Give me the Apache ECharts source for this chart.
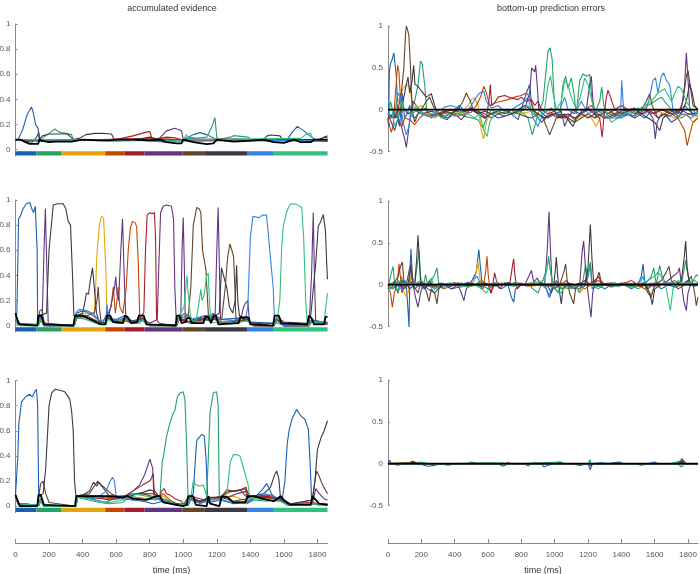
<!DOCTYPE html>
<html>
<head>
<meta charset="utf-8">
<script src="https://cdn.jsdelivr.net/npm/echarts@6/dist/echarts.min.js"></script>
<style>
  html, body { margin: 0; padding: 0; background: #fff; }
  #chart { width: 700px; height: 574px; }
</style>
</head>
<body>
<div id="chart"></div>
<script>
// word segments shown as the coloured strip under the evidence panels (ms)
const segEdges = [0, 125, 275, 535, 650, 770, 995, 1125, 1380, 1535, 1860];
const wordColors = ["#1a5fb4", "#26a269", "#e5a50a", "#c64600", "#a51d2d",
                    "#613583", "#63452c", "#3d3846", "#3584e4", "#2ec27e"];
// line colours: the 10 words, then black
const lineColors = wordColors.concat(["#000000"]);

const timeTicks = [0, 200, 400, 600, 800, 1000, 1200, 1400, 1600, 1800];
const evTicks = [0, 0.2, 0.4, 0.6, 0.8, 1];
const peTicks = [-0.5, 0, 0.5, 1];

// accumulated evidence, row 1: [time ms, value] per line, order = lineColors
const acc1 = [
  [[0,0.08],[16,0.083],[40,0.15],[70,0.28],[95,0.34],[105,0.3],[120,0.2],[135,0.17],[141,0.065],[160,0.07],[240,0.07],[345,0.08],[600,0.07],[700,0.08],[800,0.07],[900,0.06],[1000,0.08],[1060,0.12],[1100,0.136],[1140,0.12],[1200,0.08],[1400,0.075],[1560,0.07],[1620,0.08],[1650,0.14],[1680,0.186],[1720,0.15],[1765,0.1],[1790,0.08],[1860,0.07]],
  [[0,0.08],[150,0.08],[200,0.13],[235,0.165],[260,0.14],[300,0.13],[334,0.12],[345,0.08],[600,0.07],[1000,0.08],[1140,0.1],[1170,0.18],[1189,0.255],[1200,0.1],[1210,0.08],[1280,0.1],[1300,0.112],[1387,0.1],[1400,0.08],[1860,0.07]],
  [[0,0.08],[100,0.07],[140,0.08],[300,0.075],[540,0.07],[600,0.08],[900,0.07],[1100,0.065],[1400,0.075],[1700,0.07],[1860,0.07]],
  [[0,0.08],[140,0.065],[300,0.07],[600,0.085],[800,0.09],[1000,0.08],[1500,0.07],[1860,0.075]],
  [[0,0.08],[300,0.08],[600,0.08],[700,0.11],[780,0.14],[801,0.144],[815,0.08],[900,0.1],[950,0.095],[990,0.08],[1300,0.085],[1800,0.07],[1860,0.065]],
  [[0,0.08],[600,0.075],[851,0.08],[900,0.15],[950,0.17],[990,0.15],[1000,0.08],[1860,0.08]],
  [[0,0.08],[100,0.06],[125,0.1],[139,0.14],[145,0.08],[1800,0.08],[1840,0.1],[1860,0.095]],
  [[0,0.08],[140,0.08],[160,0.11],[200,0.125],[310,0.125],[330,0.1],[345,0.08],[380,0.09],[420,0.12],[473,0.13],[520,0.13],[572,0.125],[590,0.08],[700,0.08],[760,0.09],[800,0.1],[860,0.08],[1477,0.08],[1500,0.11],[1520,0.117],[1577,0.11],[1590,0.08],[1820,0.08],[1840,0.1],[1860,0.11]],
  [[0,0.08],[1000,0.07],[1040,0.1],[1100,0.08],[1860,0.07]],
  [[0,0.08],[1000,0.075],[1020,0.12],[1030,0.08],[1700,0.09],[1730,0.12],[1760,0.13],[1775,0.08],[1860,0.08]],
  [[0,0.08],[30,0.08],[60,0.06],[85,0.046],[135,0.046],[142,0.08],[160,0.07],[200,0.06],[240,0.065],[334,0.065],[345,0.08],[400,0.08],[500,0.075],[560,0.075],[600,0.08],[700,0.08],[800,0.075],[860,0.08],[900,0.06],[960,0.05],[990,0.05],[1000,0.08],[1060,0.06],[1140,0.045],[1180,0.05],[1200,0.08],[1260,0.07],[1300,0.065],[1390,0.07],[1400,0.08],[1480,0.08],[1540,0.06],[1600,0.055],[1660,0.08],[1700,0.06],[1760,0.06],[1780,0.08],[1860,0.08]]
];

// accumulated evidence, row 2
const acc2 = [
  [[0,0.08],[8,0.1],[14,0.5],[18,0.85],[28,0.87],[45,0.93],[65,0.97],[85,0.98],[100,0.92],[108,0.9],[118,0.95],[126,0.965],[129,0.6],[132,0.05],[145,0.09],[160,0.03],[200,0.01],[350,0.01],[365,0.1],[400,0.12],[440,0.1],[480,0.06],[520,0.02],[545,0.1],[560,0.06],[600,0.05],[650,0.08],[700,0.03],[760,0.05],[800,0.01],[960,0.01],[975,0.06],[1010,0.1],[1030,0.08],[1060,0.05],[1140,0.06],[1180,0.1],[1200,0.05],[1340,0.06],[1400,0.03],[1540,0.02],[1560,0.05],[1600,0.01],[1750,0.01],[1765,0.05],[1860,0.02]],
  [[0,0.07],[10,0.03],[30,0.0],[135,0.0],[145,0.07],[165,0.01],[345,0.0],[360,0.07],[420,0.05],[500,0.01],[540,0.01],[550,0.06],[600,0.02],[650,0.03],[670,0.06],[700,0.02],[740,0.02],[760,0.06],[800,0.0],[960,0.0],[975,0.05],[1040,0.02],[1130,0.04],[1190,0.05],[1230,0.02],[1340,0.03],[1380,0.04],[1420,0.0],[1540,0.0],[1560,0.05],[1600,0.0],[1750,0.0],[1765,0.04],[1860,0.03]],
  [[0,0.06],[15,0.02],[140,0.01],[150,0.06],[170,0.01],[350,0.0],[365,0.08],[420,0.1],[470,0.1],[478,0.3],[482,0.46],[487,0.6],[500,0.8],[513,0.87],[525,0.86],[533,0.85],[540,0.4],[545,0.05],[560,0.07],[600,0.03],[650,0.05],[700,0.02],[760,0.04],[800,0.0],[960,0.0],[975,0.05],[1040,0.03],[1130,0.05],[1190,0.06],[1230,0.02],[1340,0.04],[1380,0.05],[1420,0.0],[1540,0.0],[1560,0.04],[1600,0.0],[1750,0.0],[1765,0.04],[1860,0.02]],
  [[0,0.06],[15,0.02],[140,0.01],[150,0.05],[170,0.0],[350,0.0],[365,0.07],[420,0.08],[500,0.03],[540,0.02],[550,0.08],[570,0.15],[583,0.31],[595,0.1],[605,0.2],[612,0.31],[622,0.15],[640,0.1],[660,0.3],[672,0.6],[685,0.78],[697,0.83],[712,0.82],[722,0.79],[732,0.5],[741,0.06],[760,0.06],[800,0.01],[960,0.0],[975,0.05],[1040,0.03],[1130,0.06],[1190,0.06],[1230,0.02],[1340,0.04],[1380,0.05],[1420,0.0],[1540,0.0],[1560,0.05],[1600,0.0],[1750,0.0],[1765,0.04],[1860,0.02]],
  [[0,0.05],[15,0.01],[140,0.01],[150,0.05],[170,0.0],[350,0.0],[365,0.06],[420,0.07],[500,0.02],[540,0.02],[550,0.07],[600,0.03],[650,0.04],[700,0.02],[735,0.03],[750,0.08],[765,0.1],[775,0.6],[785,0.88],[800,0.9],[815,0.89],[828,0.9],[835,0.7],[841,0.05],[855,0.02],[960,0.0],[975,0.05],[1040,0.03],[1130,0.05],[1190,0.05],[1230,0.02],[1340,0.04],[1380,0.05],[1420,0.0],[1540,0.0],[1560,0.05],[1600,0.0],[1750,0.0],[1765,0.03],[1860,0.02]],
  [[0,0.05],[15,0.01],[140,0.01],[160,0.1],[170,0.6],[178,0.93],[186,0.5],[195,0.02],[350,0.0],[365,0.07],[420,0.08],[500,0.02],[540,0.02],[560,0.1],[590,0.3],[598,0.39],[605,0.25],[615,0.2],[628,0.6],[638,0.85],[648,0.4],[658,0.05],[700,0.03],[760,0.05],[800,0.02],[845,0.05],[855,0.5],[865,0.9],[880,0.95],[900,0.96],[930,0.95],[942,0.85],[950,0.3],[958,0.05],[985,0.05],[993,0.6],[1000,0.86],[1006,0.5],[1012,0.04],[1060,0.03],[1130,0.06],[1190,0.08],[1200,0.6],[1208,0.94],[1215,0.5],[1222,0.05],[1340,0.04],[1360,0.15],[1372,0.18],[1385,0.2],[1395,0.03],[1540,0.0],[1560,0.05],[1600,0.0],[1750,0.0],[1765,0.4],[1775,0.9],[1782,0.4],[1790,0.02],[1860,0.01]],
  [[0,0.05],[15,0.01],[130,0.01],[145,0.12],[158,0.13],[170,0.03],[200,0.0],[350,0.0],[365,0.07],[420,0.08],[470,0.1],[486,0.2],[493,0.31],[500,0.15],[510,0.03],[540,0.02],[550,0.06],[600,0.03],[650,0.04],[700,0.02],[760,0.05],[800,0.0],[960,0.0],[975,0.06],[1030,0.08],[1045,0.3],[1060,0.8],[1080,0.94],[1095,0.93],[1105,0.9],[1115,0.6],[1135,0.45],[1145,0.2],[1152,0.04],[1190,0.07],[1230,0.06],[1250,0.3],[1265,0.55],[1278,0.65],[1290,0.6],[1300,0.55],[1308,0.3],[1314,0.05],[1340,0.04],[1380,0.05],[1420,0.0],[1540,0.0],[1560,0.05],[1600,0.0],[1750,0.0],[1765,0.04],[1860,0.02]],
  [[0,0.1],[10,0.05],[30,0.01],[135,0.01],[140,0.08],[185,0.1],[200,0.6],[225,0.96],[250,0.97],[284,0.97],[300,0.93],[314,0.83],[328,0.8],[340,0.4],[348,0.08],[360,0.08],[400,0.1],[415,0.2],[423,0.26],[435,0.25],[445,0.35],[459,0.46],[470,0.3],[483,0.1],[500,0.03],[540,0.02],[548,0.12],[560,0.06],[600,0.04],[650,0.06],[700,0.04],[760,0.06],[800,0.01],[960,0.01],[970,0.07],[1000,0.05],[1030,0.06],[1060,0.04],[1130,0.08],[1160,0.05],[1190,0.08],[1215,0.1],[1228,0.46],[1240,0.4],[1260,0.3],[1275,0.15],[1295,0.1],[1310,0.2],[1318,0.48],[1325,0.2],[1335,0.08],[1380,0.06],[1400,0.02],[1540,0.02],[1560,0.07],[1600,0.03],[1740,0.02],[1760,0.08],[1790,0.5],[1805,0.79],[1820,0.83],[1835,0.885],[1848,0.75],[1855,0.5],[1860,0.37]],
  [[0,0.06],[15,0.01],[140,0.01],[150,0.06],[170,0.0],[350,0.0],[360,0.1],[380,0.13],[420,0.12],[460,0.1],[500,0.04],[540,0.05],[545,0.17],[555,0.07],[600,0.04],[650,0.06],[700,0.03],[760,0.05],[800,0.01],[960,0.0],[975,0.06],[1010,0.1],[1040,0.05],[1130,0.08],[1190,0.09],[1230,0.03],[1340,0.05],[1375,0.08],[1385,0.15],[1400,0.7],[1415,0.87],[1450,0.86],[1475,0.88],[1496,0.88],[1506,0.75],[1516,0.6],[1526,0.45],[1536,0.31],[1542,0.1],[1546,0.03],[1600,0.0],[1750,0.0],[1765,0.03],[1860,0.02]],
  [[0,0.06],[15,0.01],[140,0.01],[150,0.05],[170,0.0],[350,0.0],[365,0.06],[420,0.07],[500,0.02],[540,0.02],[550,0.05],[600,0.02],[650,0.04],[700,0.02],[760,0.04],[800,0.0],[960,0.0],[975,0.08],[1005,0.15],[1015,0.3],[1022,0.4],[1030,0.25],[1045,0.05],[1075,0.03],[1090,0.15],[1105,0.29],[1112,0.2],[1125,0.25],[1140,0.4],[1149,0.42],[1156,0.2],[1165,0.03],[1230,0.02],[1340,0.03],[1380,0.04],[1420,0.0],[1540,0.0],[1560,0.05],[1576,0.2],[1586,0.6],[1596,0.79],[1615,0.9],[1636,0.965],[1660,0.97],[1676,0.965],[1706,0.94],[1718,0.7],[1730,0.2],[1738,0.04],[1750,0.0],[1765,0.03],[1840,0.03],[1850,0.15],[1860,0.26]],
  [[0,0.1],[8,0.09],[20,0.01],[130,0.0],[136,0.08],[155,0.08],[170,0.01],[345,0.0],[355,0.08],[400,0.08],[430,0.06],[480,0.03],[510,0.01],[535,0.01],[545,0.08],[565,0.08],[580,0.03],[640,0.02],[652,0.08],[668,0.07],[690,0.02],[725,0.03],[735,0.08],[765,0.08],[780,0.01],[955,0.0],[962,0.08],[978,0.08],[990,0.02],[1015,0.03],[1022,0.06],[1040,0.06],[1050,0.02],[1120,0.02],[1130,0.07],[1150,0.07],[1165,0.02],[1175,0.03],[1182,0.08],[1195,0.08],[1210,0.01],[1330,0.02],[1340,0.07],[1360,0.06],[1380,0.07],[1392,0.06],[1400,0.01],[1535,0.0],[1545,0.08],[1570,0.08],[1585,0.02],[1740,0.01],[1748,0.08],[1765,0.06],[1780,0.01],[1840,0.01],[1848,0.07],[1860,0.07]]
];

// accumulated evidence, row 3
const acc3 = [
  [[0,0.09],[8,0.1],[14,0.4],[20,0.66],[36,0.83],[60,0.87],[85,0.89],[100,0.87],[115,0.91],[125,0.93],[132,0.8],[139,0.02],[150,0.06],[170,0.01],[360,0.0],[370,0.08],[420,0.07],[480,0.05],[540,0.03],[580,0.06],[640,0.06],[700,0.05],[760,0.04],[820,0.02],[880,0.04],[950,0.01],[1030,0.01],[1045,0.08],[1060,0.1],[1069,0.3],[1080,0.52],[1089,0.54],[1110,0.57],[1125,0.56],[1135,0.4],[1145,0.1],[1149,0.03],[1230,0.05],[1300,0.02],[1380,0.03],[1420,0.06],[1470,0.13],[1497,0.18],[1510,0.15],[1525,0.1],[1560,0.04],[1590,0.06],[1606,0.2],[1620,0.5],[1632,0.61],[1650,0.7],[1676,0.77],[1700,0.72],[1726,0.69],[1746,0.61],[1758,0.3],[1766,0.03],[1800,0.01],[1860,0.01]],
  [[0,0.08],[15,0.02],[140,0.01],[150,0.06],[170,0.0],[360,0.0],[370,0.07],[440,0.05],[500,0.03],[560,0.02],[640,0.03],[680,0.08],[720,0.07],[780,0.06],[840,0.05],[861,0.08],[875,0.35],[885,0.42],[900,0.55],[920,0.66],[940,0.74],[950,0.76],[965,0.87],[980,0.9],[990,0.91],[1000,0.91],[1010,0.85],[1020,0.5],[1029,0.06],[1040,0.07],[1080,0.03],[1130,0.03],[1139,0.07],[1150,0.4],[1160,0.75],[1179,0.9],[1199,0.91],[1208,0.8],[1215,0.08],[1240,0.04],[1380,0.02],[1420,0.05],[1500,0.04],[1580,0.06],[1620,0.01],[1770,0.02],[1860,0.01]],
  [[0,0.08],[15,0.02],[140,0.01],[150,0.05],[170,0.0],[360,0.0],[370,0.08],[450,0.07],[520,0.06],[560,0.05],[640,0.07],[700,0.07],[760,0.06],[860,0.07],[880,0.08],[920,0.04],[960,0.01],[1030,0.01],[1045,0.06],[1100,0.03],[1150,0.05],[1230,0.07],[1300,0.08],[1380,0.04],[1420,0.07],[1500,0.06],[1580,0.06],[1620,0.01],[1770,0.03],[1860,0.01]],
  [[0,0.08],[15,0.02],[140,0.01],[150,0.05],[170,0.0],[360,0.0],[370,0.08],[450,0.08],[520,0.07],[560,0.06],[650,0.08],[700,0.1],[760,0.1],[820,0.1],[860,0.07],[880,0.1],[920,0.05],[960,0.02],[1030,0.02],[1045,0.07],[1100,0.04],[1150,0.05],[1230,0.08],[1280,0.12],[1320,0.12],[1370,0.14],[1380,0.07],[1420,0.08],[1500,0.07],[1580,0.05],[1620,0.01],[1770,0.02],[1860,0.01]],
  [[0,0.08],[15,0.02],[140,0.01],[150,0.05],[170,0.0],[360,0.0],[370,0.07],[450,0.08],[520,0.08],[560,0.07],[650,0.08],[700,0.12],[760,0.17],[800,0.2],[810,0.22],[821,0.26],[828,0.1],[860,0.07],[870,0.12],[885,0.14],[900,0.1],[920,0.09],[950,0.06],[970,0.05],[990,0.04],[1000,0.02],[1030,0.02],[1045,0.08],[1100,0.06],[1130,0.05],[1150,0.05],[1230,0.08],[1260,0.11],[1300,0.12],[1340,0.13],[1375,0.15],[1385,0.07],[1420,0.07],[1500,0.08],[1580,0.06],[1620,0.02],[1770,0.03],[1800,0.02],[1860,0.02]],
  [[0,0.08],[15,0.02],[140,0.01],[150,0.05],[170,0.0],[360,0.0],[370,0.07],[450,0.07],[520,0.06],[560,0.05],[650,0.07],[700,0.12],[740,0.17],[770,0.25],[790,0.33],[801,0.375],[810,0.36],[818,0.3],[825,0.08],[860,0.05],[900,0.03],[960,0.01],[1030,0.01],[1045,0.06],[1100,0.03],[1150,0.05],[1230,0.06],[1280,0.08],[1320,0.1],[1380,0.12],[1400,0.07],[1500,0.07],[1580,0.06],[1620,0.02],[1770,0.02],[1790,0.14],[1810,0.1],[1840,0.06],[1860,0.05]],
  [[0,0.08],[15,0.02],[130,0.01],[150,0.18],[165,0.2],[180,0.1],[200,0.03],[360,0.0],[370,0.08],[440,0.1],[490,0.2],[500,0.21],[520,0.15],[560,0.08],[650,0.08],[700,0.09],[760,0.1],[860,0.06],[920,0.04],[960,0.01],[1030,0.01],[1045,0.07],[1100,0.04],[1150,0.06],[1230,0.08],[1260,0.13],[1300,0.12],[1340,0.13],[1380,0.07],[1420,0.08],[1500,0.09],[1540,0.08],[1580,0.05],[1620,0.01],[1770,0.05],[1785,0.2],[1795,0.28],[1810,0.24],[1830,0.17],[1860,0.1]],
  [[0,0.09],[10,0.05],[30,0.01],[130,0.01],[140,0.08],[165,0.1],[180,0.3],[200,0.8],[215,0.9],[235,0.93],[270,0.92],[294,0.91],[310,0.88],[324,0.85],[335,0.75],[344,0.6],[352,0.2],[360,0.08],[400,0.09],[440,0.12],[465,0.19],[473,0.2],[485,0.16],[495,0.19],[503,0.2],[520,0.16],[545,0.13],[570,0.1],[600,0.08],[650,0.07],[700,0.09],[760,0.11],[800,0.13],[830,0.12],[860,0.07],[900,0.04],[1000,0.01],[1030,0.07],[1100,0.04],[1150,0.07],[1230,0.07],[1300,0.04],[1380,0.06],[1420,0.08],[1480,0.1],[1520,0.15],[1545,0.25],[1557,0.28],[1570,0.22],[1580,0.06],[1640,0.02],[1770,0.05],[1785,0.2],[1800,0.45],[1820,0.54],[1840,0.6],[1860,0.68]],
  [[0,0.08],[15,0.02],[140,0.01],[150,0.05],[170,0.0],[360,0.0],[370,0.08],[420,0.09],[460,0.06],[500,0.08],[540,0.12],[565,0.2],[578,0.23],[590,0.2],[600,0.08],[650,0.07],[700,0.05],[760,0.05],[860,0.06],[920,0.03],[960,0.01],[1030,0.01],[1045,0.06],[1100,0.02],[1150,0.05],[1230,0.05],[1300,0.03],[1380,0.04],[1420,0.07],[1480,0.1],[1540,0.08],[1580,0.04],[1620,0.01],[1770,0.02],[1860,0.01]],
  [[0,0.08],[15,0.02],[140,0.01],[150,0.05],[170,0.0],[360,0.0],[370,0.07],[440,0.06],[500,0.04],[560,0.03],[640,0.05],[700,0.1],[740,0.09],[780,0.08],[860,0.07],[920,0.04],[960,0.01],[1030,0.02],[1045,0.07],[1060,0.2],[1075,0.17],[1100,0.16],[1120,0.17],[1135,0.1],[1150,0.06],[1230,0.05],[1260,0.1],[1280,0.35],[1298,0.41],[1320,0.41],[1338,0.4],[1360,0.3],[1387,0.17],[1395,0.08],[1420,0.06],[1500,0.05],[1580,0.04],[1620,0.01],[1770,0.02],[1860,0.01]],
  [[0,0.09],[10,0.08],[25,0.0],[130,0.0],[137,0.09],[150,0.09],[170,0.01],[355,0.0],[362,0.08],[400,0.08],[480,0.08],[560,0.08],[640,0.07],[665,0.08],[700,0.06],[780,0.05],[840,0.08],[860,0.08],[880,0.03],[1000,0.0],[1020,0.01],[1030,0.08],[1060,0.08],[1075,0.01],[1140,0.0],[1150,0.08],[1160,0.02],[1215,0.0],[1230,0.08],[1265,0.07],[1300,0.03],[1370,0.03],[1385,0.08],[1420,0.08],[1470,0.06],[1540,0.04],[1580,0.08],[1600,0.05],[1640,0.01],[1760,0.01],[1770,0.08],[1790,0.05],[1810,0.02],[1860,0.01]]
];

// bottom-up prediction errors, row 1
const pe1 = [
  [[0,-0.1],[3,-0.2],[8,0.45],[15,0.55],[25,0.6],[35,0.68],[42,0.7],[50,0.4],[56,0.1],[62,-0.15],[70,-0.2],[78,0.05],[85,0.2],[92,0.05],[100,-0.1],[115,-0.05],[130,0.05],[145,-0.08],[160,-0.1],[180,-0.05],[200,-0.02],[225,0.02],[250,-0.05],[280,-0.08],[300,-0.05],[330,-0.1],[355,-0.12],[380,-0.05],[410,0.02],[430,0.05],[460,-0.02],[500,0.0],[540,-0.05],[580,-0.1],[620,-0.05],[660,-0.1],[700,-0.08],[740,-0.05],[780,-0.12],[800,0.0],[830,0.2],[850,0.3],[860,0.1],[880,-0.05],[920,-0.15],[960,-0.08],[1000,-0.05],[1040,-0.1],[1080,-0.05],[1120,-0.12],[1160,-0.02],[1200,0.02],[1250,-0.05],[1300,-0.1],[1340,-0.05],[1380,-0.1],[1420,-0.03],[1460,-0.08],[1500,-0.05],[1540,-0.1],[1580,-0.02],[1620,-0.1],[1660,-0.05],[1700,-0.15],[1740,-0.1],[1780,0.05],[1800,0.0],[1830,-0.05],[1860,-0.03]],
  [[0,-0.15],[15,0.1],[25,0.02],[45,-0.1],[70,-0.05],[100,0.0],[130,-0.05],[160,0.1],[180,0.3],[195,0.58],[205,0.55],[220,0.3],[232,0.0],[250,-0.05],[290,-0.08],[330,-0.05],[380,-0.03],[420,-0.05],[460,-0.08],[500,-0.1],[540,-0.12],[570,-0.22],[590,-0.1],[620,0.0],[660,-0.05],[700,-0.03],[760,-0.05],[800,-0.02],[840,-0.1],[866,-0.3],[880,-0.2],[900,-0.05],[930,0.1],[945,0.4],[960,0.7],[972,0.74],[985,0.6],[995,0.2],[1005,-0.05],[1030,-0.1],[1050,0.3],[1065,0.4],[1080,0.25],[1100,0.38],[1115,0.2],[1130,-0.05],[1150,0.35],[1170,0.43],[1190,0.4],[1210,0.42],[1225,0.1],[1240,-0.05],[1270,0.1],[1282,0.27],[1295,0.05],[1320,-0.1],[1360,-0.05],[1400,-0.1],[1440,-0.05],[1480,-0.08],[1520,0.0],[1560,0.05],[1600,0.1],[1640,0.15],[1680,0.05],[1720,-0.05],[1760,-0.1],[1800,-0.05],[1860,-0.08]],
  [[0,-0.05],[30,-0.1],[60,0.1],[90,0.25],[110,0.3],[126,0.29],[140,0.15],[160,0.0],[200,0.05],[240,-0.05],[280,-0.1],[320,-0.05],[360,0.0],[400,-0.02],[440,-0.05],[480,0.05],[500,0.12],[520,0.14],[540,0.05],[560,-0.25],[574,-0.35],[590,-0.15],[610,-0.05],[650,-0.02],[700,-0.05],[750,0.0],[800,-0.05],[860,-0.02],[900,-0.05],[940,-0.1],[980,0.0],[1020,-0.05],[1060,-0.1],[1100,-0.15],[1140,-0.1],[1180,-0.05],[1220,-0.1],[1250,-0.2],[1270,-0.1],[1300,-0.02],[1340,-0.05],[1400,-0.03],[1440,-0.05],[1480,0.0],[1540,-0.05],[1600,0.0],[1660,-0.05],[1720,-0.1],[1760,-0.05],[1800,-0.08],[1830,-0.15],[1860,-0.1]],
  [[0,-0.1],[10,-0.2],[20,-0.27],[30,-0.2],[45,0.2],[58,0.53],[66,0.45],[75,0.1],[85,-0.2],[100,-0.1],[130,-0.12],[160,-0.18],[190,-0.1],[220,-0.05],[260,-0.08],[300,-0.05],[340,0.0],[380,-0.05],[420,-0.08],[460,-0.05],[500,-0.03],[530,0.05],[555,0.15],[575,0.28],[590,0.2],[610,0.05],[640,0.08],[680,0.1],[720,0.12],[760,0.15],[800,0.17],[830,0.2],[850,0.15],[870,0.0],[900,-0.05],[940,-0.1],[980,-0.05],[1020,-0.05],[1060,-0.1],[1100,-0.05],[1140,0.0],[1180,0.0],[1220,0.05],[1260,-0.05],[1300,-0.1],[1340,-0.1],[1380,-0.05],[1420,-0.03],[1460,0.0],[1500,-0.05],[1540,0.0],[1580,-0.05],[1620,-0.02],[1660,0.0],[1700,-0.05],[1740,-0.1],[1780,-0.25],[1795,-0.43],[1810,-0.3],[1830,-0.15],[1860,-0.1]],
  [[0,-0.05],[40,-0.1],[80,0.05],[120,-0.05],[160,0.0],[200,-0.05],[260,-0.02],[320,-0.05],[380,0.0],[440,-0.03],[500,0.0],[560,-0.05],[590,-0.1],[605,0.1],[614,0.3],[622,0.05],[640,0.08],[660,0.15],[700,0.17],[740,0.14],[780,0.12],[800,0.15],[830,0.1],[860,0.12],[880,0.05],[900,0.1],[920,0.0],[960,-0.05],[1000,-0.02],[1040,-0.1],[1080,-0.05],[1120,-0.1],[1160,-0.05],[1200,0.0],[1240,-0.05],[1270,-0.1],[1285,-0.33],[1295,-0.1],[1310,0.15],[1320,0.23],[1335,0.15],[1360,0.0],[1400,0.05],[1440,0.0],[1480,0.02],[1520,-0.05],[1560,0.0],[1600,-0.05],[1640,0.0],[1700,-0.05],[1760,0.0],[1800,-0.05],[1860,-0.05]],
  [[0,-0.05],[20,-0.15],[40,-0.25],[60,-0.1],[80,-0.2],[100,-0.35],[110,-0.45],[120,-0.3],[135,-0.05],[150,0.1],[170,0.05],[200,-0.05],[240,-0.08],[280,-0.05],[320,-0.08],[360,-0.1],[400,-0.05],[440,-0.12],[470,-0.05],[500,0.02],[540,-0.02],[580,-0.05],[620,-0.1],[660,-0.05],[700,-0.08],[740,-0.05],[780,-0.02],[820,0.0],[850,0.2],[862,0.5],[870,0.51],[880,0.45],[886,0.53],[895,0.3],[905,0.0],[930,-0.05],[960,-0.1],[1000,-0.05],[1040,-0.02],[1060,-0.2],[1080,-0.1],[1110,0.0],[1150,-0.05],[1190,0.0],[1210,0.3],[1220,0.4],[1230,0.1],[1245,-0.1],[1280,-0.05],[1320,-0.1],[1360,-0.05],[1400,-0.08],[1440,-0.05],[1480,-0.1],[1520,-0.05],[1560,-0.02],[1590,-0.1],[1604,-0.35],[1615,-0.15],[1640,-0.05],[1680,-0.08],[1720,-0.05],[1760,0.0],[1780,0.3],[1790,0.68],[1796,0.7],[1802,0.3],[1810,0.0],[1830,-0.05],[1860,-0.02]],
  [[0,-0.05],[30,-0.1],[60,0.0],[80,0.2],[95,0.5],[105,0.9],[110,1.0],[118,0.95],[125,0.89],[135,0.5],[145,0.0],[160,-0.15],[180,-0.05],[200,0.0],[230,0.1],[250,0.15],[270,0.05],[300,-0.05],[340,-0.02],[380,-0.05],[420,0.0],[450,0.1],[470,0.2],[480,0.22],[495,0.1],[510,0.0],[540,-0.05],[580,-0.1],[620,-0.05],[660,-0.02],[700,-0.05],[740,0.0],[780,-0.05],[820,-0.08],[860,-0.1],[900,-0.05],[930,-0.1],[950,-0.2],[970,-0.3],[990,-0.2],[1010,-0.1],[1040,-0.05],[1080,-0.1],[1120,-0.15],[1160,-0.1],[1200,-0.05],[1240,-0.1],[1280,-0.05],[1320,0.0],[1360,-0.05],[1400,-0.02],[1440,0.0],[1480,-0.05],[1520,0.0],[1550,0.1],[1570,0.19],[1585,0.05],[1620,-0.1],[1660,-0.05],[1700,0.0],[1740,-0.05],[1770,0.1],[1790,0.4],[1800,0.47],[1812,0.3],[1830,0.05],[1860,0.0]],
  [[0,-0.1],[30,-0.05],[60,-0.1],[90,0.1],[110,0.3],[120,0.39],[130,0.2],[145,0.35],[154,0.53],[162,0.3],[175,0.29],[190,0.25],[210,0.2],[230,0.15],[260,0.19],[280,0.05],[300,-0.05],[340,-0.08],[380,-0.05],[420,0.02],[460,-0.02],[500,0.02],[540,-0.05],[580,-0.02],[620,-0.05],[660,-0.02],[700,0.0],[740,-0.05],[780,0.0],[820,0.05],[860,0.0],[900,-0.05],[940,-0.1],[980,-0.05],[1020,-0.1],[1060,-0.05],[1090,-0.15],[1110,-0.2],[1130,-0.1],[1160,-0.05],[1200,-0.1],[1240,-0.05],[1280,0.0],[1320,-0.05],[1360,0.0],[1400,-0.05],[1440,-0.02],[1480,0.0],[1520,-0.05],[1560,-0.1],[1600,-0.15],[1630,-0.25],[1650,-0.1],[1680,-0.05],[1720,0.0],[1760,-0.05],[1790,0.1],[1810,0.31],[1825,0.2],[1840,0.05],[1860,0.0]],
  [[0,-0.05],[20,-0.1],[40,-0.05],[60,0.2],[75,0.15],[90,-0.15],[110,-0.3],[125,-0.2],[140,-0.05],[180,0.0],[220,-0.05],[260,-0.1],[300,-0.02],[340,0.03],[380,0.05],[420,0.02],[460,-0.05],[500,0.05],[530,0.15],[550,0.2],[575,0.22],[590,0.1],[620,0.02],[660,0.05],[700,-0.02],[740,0.0],[780,0.05],[820,0.1],[840,0.15],[870,-0.1],[900,-0.2],[930,-0.05],[980,0.02],[1020,-0.05],[1060,0.15],[1080,0.0],[1120,-0.05],[1160,0.1],[1200,-0.05],[1260,0.0],[1300,-0.08],[1350,-0.1],[1395,-0.1],[1402,0.35],[1410,0.1],[1420,-0.08],[1460,-0.05],[1500,0.02],[1540,-0.05],[1570,0.15],[1590,0.35],[1605,0.38],[1620,0.2],[1640,0.4],[1655,0.44],[1670,0.35],[1690,0.3],[1710,0.0],[1740,-0.08],[1780,-0.05],[1820,-0.1],[1860,-0.02]],
  [[0,0.1],[20,0.05],[40,-0.2],[60,-0.1],[80,0.1],[100,0.0],[140,-0.05],[170,0.05],[200,-0.05],[240,-0.08],[280,-0.02],[320,-0.1],[360,-0.05],[400,-0.08],[440,-0.03],[480,-0.05],[520,-0.1],[550,-0.05],[575,-0.25],[595,-0.32],[610,-0.15],[640,-0.05],[680,0.0],[720,-0.05],[760,-0.02],[800,0.0],[840,0.05],[870,-0.05],[900,-0.1],[940,0.0],[960,0.3],[975,0.4],[990,0.2],[1010,0.0],[1040,0.1],[1060,0.35],[1080,0.3],[1100,0.15],[1130,0.0],[1160,0.2],[1180,0.38],[1200,0.3],[1230,0.05],[1260,-0.05],[1300,0.0],[1340,-0.15],[1380,-0.1],[1420,-0.05],[1460,-0.02],[1500,0.0],[1540,0.05],[1580,0.1],[1620,0.2],[1660,0.25],[1700,0.1],[1740,0.28],[1760,0.25],[1790,0.1],[1820,0.0],[1860,-0.05]],
  [[0,0.0],[1860,0.0]]
];

// bottom-up prediction errors, row 2
const pe2 = [
  [[0,0],[20,-0.05],[40,0.05],[60,-0.1],[80,0.05],[110,0.0],[120,-0.3],[126,-0.51],[132,0.2],[138,0.43],[146,0.1],[160,-0.05],[200,0.02],[240,-0.05],[280,-0.1],[300,-0.05],[340,0.0],[380,-0.05],[420,-0.03],[460,0.02],[490,0.0],[530,0.15],[545,0.42],[555,0.2],[565,0.0],[600,-0.05],[640,0.0],[680,-0.05],[720,0.0],[740,-0.15],[754,-0.21],[765,-0.05],[800,0.0],[840,-0.02],[880,0.0],[940,0.0],[960,-0.1],[970,-0.15],[985,-0.05],[1010,0.05],[1040,-0.05],[1080,0.0],[1140,-0.05],[1180,-0.02],[1200,0.1],[1214,0.25],[1225,-0.05],[1260,0.0],[1300,-0.05],[1340,0.0],[1380,-0.02],[1420,0.0],[1460,-0.05],[1500,0.0],[1520,0.1],[1530,0.25],[1540,0.05],[1560,-0.05],[1600,0.02],[1640,-0.05],[1680,0.0],[1720,-0.03],[1760,0.0],[1800,0.05],[1840,-0.02],[1860,0.0]],
  [[0,-0.05],[15,0.1],[30,0.22],[40,0.0],[60,-0.1],[80,0.1],[100,-0.05],[130,0.05],[160,0.0],[180,0.3],[186,0.41],[195,0.1],[210,-0.05],[225,0.12],[240,-0.02],[260,0.05],[280,0.12],[294,0.2],[305,0.0],[330,-0.05],[360,0.02],[400,0.0],[440,-0.03],[480,0.02],[520,0.0],[560,0.05],[600,0.0],[640,-0.02],[680,0.0],[720,0.03],[760,0.0],[800,0.02],[840,0.0],[870,-0.05],[900,-0.1],[920,0.0],[955,0.2],[964,0.34],[975,0.15],[990,0.0],[1020,-0.1],[1040,0.0],[1080,-0.05],[1120,0.0],[1150,-0.1],[1170,0.05],[1185,0.23],[1200,0.1],[1214,0.27],[1225,0.0],[1260,-0.05],[1300,0.0],[1340,-0.03],[1380,0.0],[1420,0.02],[1460,0.0],[1500,-0.05],[1540,0.0],[1580,0.1],[1594,0.2],[1610,0.0],[1630,0.23],[1645,0.1],[1670,0.0],[1720,0.05],[1760,0.0],[1786,0.29],[1800,0.1],[1820,0.0],[1850,0.12],[1860,0.1]],
  [[0,0],[30,-0.05],[60,0.05],[90,-0.05],[110,-0.15],[120,-0.1],[140,0.1],[160,0.0],[220,0.02],[280,-0.03],[340,0.0],[400,0.0],[440,0.02],[480,-0.02],[520,0.05],[540,0.27],[550,0.1],[560,-0.05],[600,0.0],[640,0.02],[680,0.0],[720,0.0],[760,0.02],[800,0.0],[860,-0.02],[920,0.0],[980,0.02],[1020,0.0],[1060,-0.05],[1100,0.0],[1160,-0.08],[1180,0.0],[1240,0.02],[1300,0.0],[1360,0.0],[1420,0.02],[1480,0.0],[1540,-0.05],[1580,-0.12],[1600,0.0],[1660,0.02],[1720,0.0],[1800,0.02],[1860,0.0]],
  [[0,0],[15,-0.1],[26,-0.27],[38,-0.1],[55,0.0],[66,0.25],[74,0.1],[84,-0.1],[100,0.0],[140,0.03],[180,-0.02],[220,0.02],[260,-0.03],[300,0.0],[340,-0.05],[380,0.0],[420,0.02],[460,0.0],[500,-0.02],[540,0.0],[570,-0.05],[586,0.15],[594,0.34],[602,0.1],[615,-0.1],[640,0.0],[680,0.02],[720,0.0],[760,0.02],[800,0.0],[840,0.0],[900,0.02],[960,0.0],[1000,-0.02],[1040,0.0],[1070,0.05],[1100,-0.05],[1140,0.0],[1180,-0.05],[1220,0.0],[1260,0.05],[1300,0.0],[1340,0.02],[1380,0.0],[1420,0.02],[1460,0.05],[1500,0.0],[1540,-0.05],[1580,0.0],[1620,0.02],[1680,0.0],[1740,0.02],[1800,0.0],[1860,0.0]],
  [[0,0],[40,0.03],[80,-0.03],[120,0.02],[160,0.0],[200,0.03],[240,-0.02],[280,0.0],[320,0.02],[360,0.0],[400,0.02],[440,0.0],[480,-0.02],[520,0.0],[560,0.02],[600,0.0],[620,-0.1],[640,0.14],[650,0.05],[670,-0.05],[700,0.02],[730,0.0],[745,0.2],[754,0.31],[762,0.1],[775,-0.05],[800,0.0],[860,0.02],[900,0.0],[960,0.0],[1000,0.02],[1040,0.0],[1080,0.02],[1120,0.0],[1160,0.02],[1200,0.0],[1240,0.05],[1266,0.1],[1280,0.0],[1320,0.02],[1360,0.0],[1400,0.02],[1440,0.0],[1480,0.02],[1520,-0.02],[1560,0.0],[1600,0.02],[1660,0.0],[1720,0.02],[1780,0.0],[1860,0.0]],
  [[0,0],[30,-0.05],[60,0.05],[90,-0.05],[120,0.0],[135,0.21],[145,0.05],[165,-0.15],[180,-0.27],[195,-0.1],[210,0.0],[250,0.02],[300,-0.03],[340,0.0],[380,-0.05],[420,0.0],[440,-0.1],[455,-0.19],[470,-0.05],[500,0.02],[540,0.0],[580,0.02],[620,-0.02],[660,0.0],[700,0.02],[740,0.0],[780,0.02],[820,0.0],[845,0.1],[860,0.17],[875,0.03],[895,0.08],[910,0.03],[940,0.0],[955,0.4],[966,0.87],[975,0.4],[985,0.0],[1000,-0.05],[1040,0.02],[1080,0.0],[1120,-0.05],[1150,0.0],[1165,0.4],[1174,0.52],[1185,0.2],[1200,-0.1],[1218,-0.39],[1228,-0.1],[1240,0.0],[1280,0.02],[1320,0.0],[1360,0.02],[1400,0.0],[1440,-0.02],[1480,0.0],[1520,0.02],[1560,0.0],[1600,-0.02],[1640,0.0],[1680,0.05],[1740,0.15],[1748,0.2],[1758,0.05],[1775,-0.2],[1790,-0.31],[1800,-0.1],[1815,0.0],[1860,0.02]],
  [[0,0],[30,0.0],[60,0.1],[75,0.22],[86,0.27],[95,0.05],[110,0.0],[130,0.2],[140,0.25],[150,0.0],[180,-0.1],[200,0.05],[230,-0.08],[246,-0.2],[260,-0.05],[280,-0.1],[294,-0.23],[305,-0.05],[330,0.0],[380,-0.02],[420,0.02],[460,0.0],[480,0.03],[500,0.0],[540,0.0],[580,0.02],[620,0.0],[660,0.02],[700,0.0],[760,0.02],[800,0.0],[860,0.0],[920,0.02],[960,0.0],[1000,-0.05],[1030,0.0],[1055,0.15],[1066,0.25],[1075,0.05],[1090,-0.1],[1114,-0.23],[1125,-0.05],[1150,0.0],[1180,0.05],[1220,0.0],[1250,0.05],[1266,0.15],[1278,0.05],[1300,0.0],[1340,-0.02],[1380,0.0],[1420,0.02],[1460,0.0],[1500,-0.02],[1540,0.0],[1560,-0.1],[1580,-0.15],[1600,0.0],[1640,0.05],[1670,0.15],[1686,0.22],[1700,0.05],[1740,-0.05],[1780,0.0],[1820,0.1],[1840,-0.1],[1850,-0.25],[1860,-0.15]],
  [[0,0],[30,-0.05],[60,0.0],[100,0.05],[130,-0.05],[160,0.0],[172,0.3],[180,0.59],[188,0.3],[196,0.0],[220,-0.05],[250,0.05],[280,-0.05],[300,-0.03],[340,0.0],[400,0.02],[440,0.0],[480,0.02],[520,0.0],[560,-0.02],[600,0.0],[640,0.02],[680,0.0],[720,0.02],[760,0.0],[800,0.0],[860,0.0],[920,0.0],[960,-0.02],[980,-0.1],[995,0.0],[1005,0.2],[1010,0.33],[1018,0.1],[1030,-0.1],[1040,-0.23],[1050,-0.05],[1080,0.02],[1120,0.0],[1150,0.02],[1180,0.0],[1200,0.2],[1214,0.72],[1224,0.3],[1235,0.0],[1260,-0.02],[1300,0.0],[1340,0.02],[1380,0.0],[1420,0.0],[1460,-0.02],[1500,0.0],[1540,0.02],[1570,-0.1],[1586,-0.24],[1600,-0.05],[1640,0.0],[1680,0.02],[1720,0.0],[1760,0.05],[1776,0.3],[1786,0.52],[1795,0.2],[1810,0.0],[1860,0.0]],
  [[0,0],[40,0.02],[80,-0.05],[100,0.05],[120,0.0],[160,0.03],[200,-0.02],[240,0.0],[280,-0.05],[320,0.0],[360,-0.02],[400,0.0],[440,0.02],[480,0.0],[520,0.08],[535,0.1],[545,0.05],[560,-0.02],[600,0.0],[640,0.02],[680,0.0],[720,0.0],[760,0.02],[800,0.0],[840,0.0],[880,0.02],[920,0.0],[950,-0.05],[966,-0.15],[980,-0.05],[1000,0.0],[1040,0.02],[1080,0.0],[1120,0.0],[1160,-0.02],[1200,0.0],[1240,0.02],[1280,0.0],[1320,0.0],[1360,0.02],[1400,0.0],[1440,0.02],[1480,0.0],[1520,0.05],[1530,0.1],[1545,0.0],[1580,0.02],[1620,0.0],[1680,0.02],[1740,0.0],[1800,0.02],[1860,0.0]],
  [[0,0.0],[30,-0.05],[60,0.05],[90,0.0],[120,0.02],[150,0.0],[200,0.05],[230,0.0],[260,0.08],[280,-0.05],[320,0.0],[380,0.02],[420,0.0],[480,-0.03],[520,0.0],[560,-0.05],[590,-0.1],[620,0.0],[660,0.02],[700,0.0],[760,-0.02],[800,0.0],[860,0.02],[940,0.05],[964,0.3],[980,0.1],[1000,-0.05],[1040,-0.1],[1060,0.0],[1100,-0.05],[1140,0.0],[1200,0.0],[1260,-0.02],[1300,0.0],[1360,0.02],[1400,0.0],[1460,-0.03],[1500,0.0],[1560,0.05],[1600,0.1],[1620,0.15],[1640,0.1],[1670,-0.05],[1694,-0.31],[1710,-0.05],[1740,0.05],[1780,0.0],[1800,0.02],[1840,0.05],[1860,0.02]],
  [[0,0.0],[1860,0.0]]
];

// bottom-up prediction errors, row 3
const pe3 = [
  [[0,0.0],[10,0.04],[20,0.0],[60,-0.02],[100,0.01],[140,0.0],[200,-0.01],[240,-0.03],[280,-0.02],[320,0.0],[360,-0.02],[400,0.0],[480,0.0],[500,0.02],[540,0.0],[600,-0.01],[660,0.0],[690,-0.03],[720,0.0],[820,0.0],[840,-0.03],[860,0.0],[920,0.0],[935,-0.04],[960,-0.02],[1000,0.0],[1030,0.02],[1045,0.0],[1100,0.0],[1150,-0.02],[1200,0.0],[1214,-0.075],[1225,0.0],[1280,0.01],[1320,0.0],[1390,0.02],[1410,0.0],[1480,0.0],[1520,-0.02],[1560,0.0],[1600,0.02],[1620,0.0],[1700,0.0],[1760,0.03],[1780,0.0],[1860,0.0]],
  [[0,0.0],[100,0.01],[140,0.0],[200,0.02],[220,0.0],[400,0.0],[600,0.01],[800,0.0],[1040,0.02],[1060,0.0],[1200,0.0],[1212,0.05],[1220,-0.02],[1240,0.0],[1500,0.0],[1740,0.0],[1760,-0.04],[1780,0.0],[1860,0.0]],
  [[0,0],[480,0],[500,0.01],[520,0],[1860,0]],
  [[0,0],[150,0.01],[170,0],[1210,0],[1220,0.02],[1230,0],[1860,0]],
  [[0,0],[700,0],[720,0.01],[740,0],[1860,0]],
  [[0,0],[130,0.0],[150,0.025],[170,0.0],[1200,0.0],[1218,-0.03],[1230,0.0],[1390,0.0],[1400,0.02],[1420,0.0],[1740,0.0],[1765,0.06],[1780,0.0],[1860,0.0]],
  [[0,0],[120,0.0],[145,0.03],[160,0.02],[180,0.0],[860,0.0],[880,0.01],[900,0.0],[1760,0.0],[1770,0.04],[1790,0.0],[1860,0.0]],
  [[0,0],[140,0.0],[155,0.02],[170,0.0],[1750,0.0],[1765,0.03],[1780,0.0],[1860,0.0]],
  [[0,0],[360,0],[370,-0.02],[380,0],[1580,0],[1590,-0.02],[1600,0],[1860,0]],
  [[0,0],[200,0.0],[220,0.015],[240,0.0],[1040,0.0],[1050,0.02],[1060,0.0],[1260,0.0],[1270,0.02],[1280,0.0],[1700,0.0],[1730,0.02],[1750,0.0],[1860,0.0]],
  [[0,0.0],[1860,0.0]]
];

const chart = echarts.init(document.getElementById("chart"), null, { renderer: "canvas" });

const panels = [
  { lines: acc1, left: 15.5, top: 24, width: 312, height: 132, evidence: true },
  { lines: pe1, left: 388, top: 26, width: 310, height: 125.5, evidence: false },
  { lines: acc2, left: 15.5, top: 200, width: 312, height: 132, evidence: true },
  { lines: pe2, left: 388, top: 201, width: 310, height: 125.5, evidence: false },
  { lines: acc3, left: 15.5, top: 380.5, width: 312, height: 132, evidence: true },
  { lines: pe3, left: 388, top: 380, width: 310, height: 125.5, evidence: false }
];

const axisGray = "#8a8a8a";
const labelStyle = { fontSize: 8, color: "#555", fontFamily: "Liberation Sans" };

const grids = [], xAxes = [], yAxes = [], series = [];

panels.forEach((p, i) => {
  const bottomRow = i >= 4;
  // fixed boxes: keep v6 from shrinking the grid to fit the axis name
  grids.push({ left: p.left, top: p.top, width: p.width, height: p.height, outerBoundsMode: "none", containLabel: false });

  xAxes.push({
    gridIndex: i, type: "value", min: 0, max: 1860,
    show: bottomRow,
    offset: bottomRow ? 543 - (p.top + p.height) : 0,
    name: "time (ms)", nameLocation: "middle", nameGap: 23,
    nameTextStyle: { fontSize: 9, color: "#333", fontFamily: "Liberation Sans" },
    axisLine: { show: true, onZero: false, lineStyle: { color: axisGray, width: 1 } },
    axisTick: { show: true, inside: true, length: 4, customValues: timeTicks, lineStyle: { color: axisGray } },
    axisLabel: { customValues: timeTicks, margin: 8, formatter: v => String(v), ...labelStyle },
    splitLine: { show: false }
  });

  yAxes.push({
    gridIndex: i, type: "value",
    min: p.evidence ? -0.05 : -0.5, max: 1,
    axisLine: { show: true, onZero: false, lineStyle: { color: axisGray, width: 1 } },
    axisTick: { show: true, inside: true, length: 2, customValues: p.evidence ? evTicks : peTicks, lineStyle: { color: axisGray } },
    axisLabel: { customValues: p.evidence ? evTicks : peTicks, margin: 5, formatter: v => String(v), ...labelStyle },
    splitLine: { show: false }
  });

  p.lines.forEach((pts, c) => {
    const isBlack = c === 10;
    series.push({
      type: "line", xAxisIndex: i, yAxisIndex: i,
      data: pts, symbol: "none", silent: true, z: isBlack ? 4 : 3,
      lineStyle: { color: lineColors[c], width: isBlack ? (p.evidence ? 1.8 : 1.6) : 1.1 }
    });
  });

  if (p.evidence) {
    series.push({
      type: "custom", xAxisIndex: i, yAxisIndex: i, silent: true, z: 5,
      data: segEdges.slice(0, -1).map((s, k) => [s, segEdges[k + 1], k]),
      renderItem: (params, api) => {
        const a = api.coord([api.value(0), -0.012]);
        const b = api.coord([api.value(1), -0.046]);
        return {
          type: "rect",
          shape: { x: a[0], y: a[1], width: b[0] - a[0], height: b[1] - a[1] },
          style: { fill: wordColors[api.value(2)] }
        };
      }
    });
  }
});

chart.setOption({
  animation: false,
  backgroundColor: "#fff",
  title: [
    { text: "accumulated evidence", left: 167, top: -1, textAlign: "center",
      textStyle: { fontSize: 9, fontWeight: "normal", color: "#333", fontFamily: "Liberation Sans" } },
    { text: "bottom-up prediction errors", left: 546, top: -1, textAlign: "center",
      textStyle: { fontSize: 9, fontWeight: "normal", color: "#333", fontFamily: "Liberation Sans" } }
  ],
  grid: grids,
  xAxis: xAxes,
  yAxis: yAxes,
  series: series
});
</script>
</body>
</html>
